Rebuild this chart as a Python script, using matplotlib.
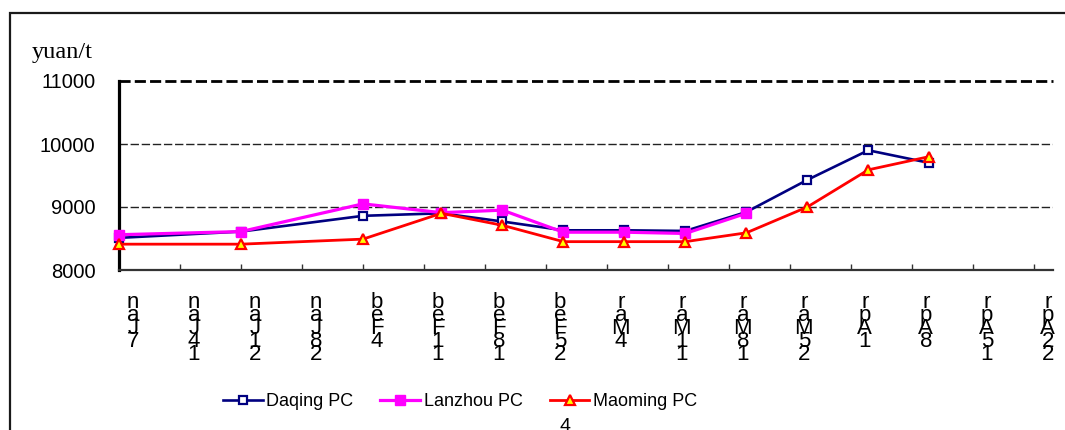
import matplotlib
matplotlib.use("Agg")
import matplotlib.pyplot as plt
import matplotlib.patches as patches
import matplotlib.transforms as mtrans

plt.rcParams['font.family'] = ['Liberation Sans', 'DejaVu Sans']

# days counted from 7 Jan
days = [0, 14, 28, 37, 44, 51, 58, 65, 72, 79, 86, 93]
daqing = [8510, 8610, 8860, 8900, 8770, 8630, 8630, 8620, 8920, 9430, 9900, 9700]
lanzhou = [8560, 8610, 9050, 8910, 8950, 8600, 8600, 8580, 8900]
maoming = [8410, 8410, 8490, 8900, 8710, 8450, 8450, 8450, 8590, 9000, 9590, 9800]

tick_days = [0, 7, 14, 21, 28, 35, 42, 49, 56, 63, 70, 77, 84, 91, 98, 105]
tick_text = ["naJ7", "naJ41", "naJ12", "naJ82", "beF4", "beF11", "beF81", "beF52",
             "raM4", "raM11", "raM81", "raM52", "rpA1", "rpA8", "rpA51", "rpA22"]
y_ticks = [8000, 9000, 10000, 11000]

W, H = 1065, 430
fig = plt.figure(figsize=(W/100, H/100), dpi=100)
ax = fig.add_axes([119/W, 1-270/H, 934/W, 189/H])

# outer frame
fig.patches.append(patches.Rectangle((10/W, -0.1), 1.2, 1.1-13/H, transform=fig.transFigure,
                                     fill=False, ec='#1a1a1a', lw=1.6))

ax.plot(days, daqing, color='#000080', lw=1.9, marker='s', ms=6, mfc='white',
        mec='#000080', mew=1.6, clip_on=False, zorder=3, label='Daqing PC')
ax.plot(days[:len(lanzhou)], lanzhou, color='#ff00ff', lw=2.3, marker='s', ms=7.5,
        mfc='#ff00ff', mec='#ff00ff', clip_on=False, zorder=4, label='Lanzhou PC')
ax.plot(days, maoming, color='#ff0000', lw=2.0, marker='^', ms=7.5, mfc='#ffff00',
        mec='#ff0000', mew=1.6, clip_on=False, zorder=5, label='Maoming PC')

ax.set_xlim(0, 107.2)
ax.set_ylim(8000, 11000)
ax.set_yticks(y_ticks)
ax.set_yticklabels([str(v) for v in y_ticks])
ax.tick_params(axis='y', length=0, pad=17, labelsize=14.5)
ax.set_xticks(tick_days)
ax.set_xticklabels([])
ax.tick_params(axis='x', direction='in', length=4, width=1, color='#333333')

# gridlines
for v in [9000, 10000]:
    ax.axhline(v, color='#222222', lw=1.0, ls=(0, (6, 2)), zorder=1)
ax.axhline(11000, color='black', lw=2.0, ls=(0, (4, 1.5)), zorder=1, clip_on=False)

for s in ['top', 'right']:
    ax.spines[s].set_visible(False)
ax.spines['left'].set_linewidth(2.3)
ax.spines['left'].set_color('black')
ax.spines['bottom'].set_linewidth(1.6)
ax.spines['bottom'].set_color('#333333')
ax.spines['bottom'].set_linestyle((0, (3, 1)))

# stacked date labels
tr = mtrans.blended_transform_factory(ax.transData, ax.transAxes)
for d, t in zip(tick_days, tick_text):
    ax.text(d + 1.6, -0.115, "\n".join(t), transform=tr, ha='center', va='top',
            fontsize=16, linespacing=0.5)

fig.text(32/W, 1-58/H, "yuan/t", family='Liberation Serif', fontsize=17.5, va='baseline')

fig.legend(loc='center', bbox_to_anchor=(460/W, 1-402/H), ncol=3, frameon=False,
           fontsize=13, handlelength=2.2, handletextpad=0.2, columnspacing=1.5)

fig.text(565/W, 1-418/H, "4", fontsize=14, va='top', ha='center')

fig.savefig("out.png", dpi=100)
